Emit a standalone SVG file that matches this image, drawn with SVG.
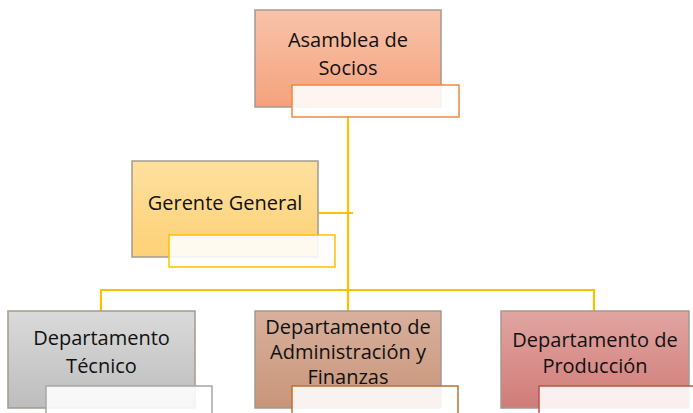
<svg xmlns="http://www.w3.org/2000/svg" width="693" height="413" viewBox="0 0 693 413">
<style>
.box{stroke:#A39A90;stroke-width:1.5}
.ov{fill:#ffffff;fill-opacity:0.88;stroke-width:1.5}
.t{font-family:"Open Sans","Liberation Sans",sans-serif;font-size:20px;fill:#111;text-anchor:middle}
.ln{fill:none;stroke:#FFC000;stroke-width:2.2}
</style>
<defs>
<linearGradient id="gA" x1="0" y1="0" x2="0" y2="1"><stop offset="0" stop-color="#F8C3AA"/><stop offset="1" stop-color="#F4A27D"/></linearGradient>
<linearGradient id="gG" x1="0" y1="0" x2="0" y2="1"><stop offset="0" stop-color="#FEE09E"/><stop offset="1" stop-color="#FDD177"/></linearGradient>
<linearGradient id="gT" x1="0" y1="0" x2="0" y2="1"><stop offset="0" stop-color="#DADADA"/><stop offset="1" stop-color="#BDBDBD"/></linearGradient>
<linearGradient id="gF" x1="0" y1="0" x2="0" y2="1"><stop offset="0" stop-color="#D8B09C"/><stop offset="1" stop-color="#C8957A"/></linearGradient>
<linearGradient id="gP" x1="0" y1="0" x2="0" y2="1"><stop offset="0" stop-color="#E1A5A2"/><stop offset="1" stop-color="#D07C78"/></linearGradient>
</defs>
<g id="connectors">
<path class="ln" d="M348 117 V290"/>
<path class="ln" d="M318 213 H353"/>
<path class="ln" d="M101 311 V290 H594 V311"/>
<path class="ln" d="M348 290 V311"/>
</g>
<g id="asamblea">
<rect class="box" x="255" y="10" width="186" height="97" fill="url(#gA)"/>
<text class="t" x="348" y="47">Asamblea de</text>
<text class="t" x="348" y="75">Socios</text>
<rect class="ov" x="292" y="85" width="167" height="32" stroke="#F0883E"/>
</g>
<g id="gerente">
<rect class="box" x="132" y="161" width="186" height="96" fill="url(#gG)"/>
<text class="t" x="225" y="210">Gerente General</text>
<rect class="ov" x="169" y="235" width="166" height="32" stroke="#FFC000"/>
</g>
<g id="tecnico">
<rect class="box" x="8" y="311" width="187" height="97" fill="url(#gT)"/>
<text class="t" x="101.5" y="345">Departamento</text>
<text class="t" x="101.5" y="373">Técnico</text>
<rect class="ov" x="46" y="386" width="166" height="32" stroke="#A6A6A6"/>
</g>
<g id="administracion">
<rect class="box" x="255" y="311" width="186" height="97" fill="url(#gF)"/>
<text class="t" x="348" y="334">Departamento de</text>
<text class="t" x="348" y="359">Administración y</text>
<text class="t" x="348" y="384">Finanzas</text>
<rect class="ov" x="292" y="386" width="166" height="32" stroke="#C07030"/>
</g>
<g id="produccion">
<rect class="box" x="501" y="311" width="188" height="97" fill="url(#gP)"/>
<text class="t" x="595" y="347">Departamento de</text>
<text class="t" x="595" y="373">Producción</text>
<rect class="ov" x="539" y="386" width="166" height="32" stroke="#C0504D"/>
</g>
</svg>
